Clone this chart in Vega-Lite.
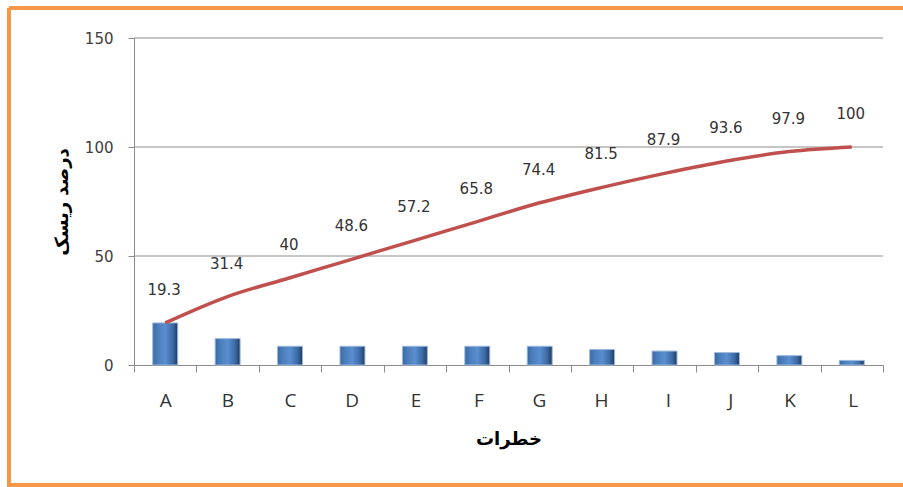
{
  "$schema": "https://vega.github.io/schema/vega-lite/v6.json",
  "width": 894,
  "height": 477,
  "autosize": "none",
  "padding": {"left": 9, "top": 8, "right": 0, "bottom": 2},
  "background": "white",
  "config": {
    "view": {"stroke": "#F79646", "strokeWidth": 4, "fill": "white", "strokeDash": [894, 477, 1371, 0]},
    "axis": {"grid": false}
  },
  "data": {
    "values": [
      {"cat": "A", "v": 19.3, "cum": 19.3},
      {"cat": "B", "v": 12.1, "cum": 31.4},
      {"cat": "C", "v": 8.6, "cum": 40},
      {"cat": "D", "v": 8.6, "cum": 48.6},
      {"cat": "E", "v": 8.6, "cum": 57.2},
      {"cat": "F", "v": 8.6, "cum": 65.8},
      {"cat": "G", "v": 8.6, "cum": 74.4},
      {"cat": "H", "v": 7.1, "cum": 81.5},
      {"cat": "I", "v": 6.4, "cum": 87.9},
      {"cat": "J", "v": 5.7, "cum": 93.6},
      {"cat": "K", "v": 4.3, "cum": 97.9},
      {"cat": "L", "v": 2.1, "cum": 100}
    ]
  },
  "layer": [
    {
      "data": {"values": [{"v": 50}, {"v": 100}, {"v": 150}]},
      "mark": {"type": "rule", "color": "#8C8C8C", "strokeWidth": 1},
      "encoding": {
        "x": {"datum": "A", "type": "nominal", "bandPosition": 0, "title": "خطرات",
          "scale": {"domain": ["A","B","C","D","E","F","G","H","I","J","K","L"], "range": [125, 874], "paddingInner": 0, "paddingOuter": 0}},
        "x2": {"datum": "L", "bandPosition": 1},
        "y": {"field": "v", "type": "quantitative", "title": "درصد ریسک",
          "scale": {"domain": [0, 150], "range": [357, 30], "nice": false, "zero": true}}
      }
    },
    {
      "mark": {
        "type": "bar",
        "width": {"band": 0.4},
        "stroke": "#9DB9DC",
        "strokeWidth": 1,
        "color": {
          "gradient": "linear", "x1": 0, "x2": 1, "y1": 0, "y2": 0,
          "stops": [
            {"offset": 0, "color": "#3A69A3"},
            {"offset": 0.2, "color": "#4A7DBA"},
            {"offset": 0.5, "color": "#5A8ED0"},
            {"offset": 0.8, "color": "#3C6BA5"},
            {"offset": 1, "color": "#1E3A62"}
          ]
        }
      },
      "encoding": {
        "x": {"field": "cat", "type": "nominal", "title": "خطرات", "sort": null,
          "scale": {"domain": ["A","B","C","D","E","F","G","H","I","J","K","L"], "range": [125, 874], "paddingInner": 0, "paddingOuter": 0},
          "axis": {
            "orient": "bottom", "offset": -120, "tickBand": "extent", "labelOffset": 6,
            "domainColor": "#8C8C8C", "tickColor": "#8C8C8C", "tickSize": 7, "labelAngle": 0,
            "labelFont": "Open Sans", "labelFontSize": 19, "labelColor": "#333333", "labelPadding": 28,
            "titleFont": "DejaVu Sans", "titleFontSize": 18, "titleFontWeight": "bold", "titleColor": "#000000", "titlePadding": 20
          }},
        "y": {"field": "v", "type": "quantitative", "title": "درصد ریسک",
          "scale": {"domain": [0, 150], "range": [357, 30], "nice": false, "zero": true},
          "axis": {
            "orient": "left", "offset": -125, "values": [0, 50, 100, 150],
            "domainColor": "#8C8C8C", "tickColor": "#8C8C8C", "tickSize": 6,
            "labelFont": "DejaVu Sans", "labelFontSize": 15, "labelColor": "#404040", "labelPadding": 15,
            "titleFont": "DejaVu Sans", "titleFontSize": 18, "titleFontWeight": "bold", "titleColor": "#000000", "titlePadding": 13
          }}
      }
    },
    {
      "mark": {"type": "line", "color": "#C0504D", "strokeWidth": 3.5, "interpolate": "monotone"},
      "encoding": {
        "x": {"field": "cat", "type": "nominal", "title": "خطرات", "sort": null},
        "y": {"field": "cum", "type": "quantitative", "title": "درصد ریسک"}
      }
    },
    {
      "mark": {"type": "text", "font": "DejaVu Sans", "fontSize": 15, "color": "#333333", "dy": -33, "dx": -1, "baseline": "middle"},
      "encoding": {
        "x": {"field": "cat", "type": "nominal", "title": "خطرات", "sort": null},
        "y": {"field": "cum", "type": "quantitative", "title": "درصد ریسک"},
        "text": {"field": "cum", "type": "quantitative"}
      }
    }
  ]
}
